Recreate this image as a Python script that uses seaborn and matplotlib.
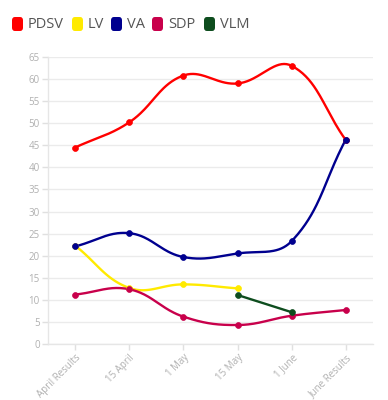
import numpy as np
import pandas as pd
import matplotlib
matplotlib.use("Agg")
import matplotlib.pyplot as plt
import seaborn as sns
from matplotlib.patches import FancyBboxPatch

LABELS = ["April Results", "15 April", "1 May", "15 May", "1 June", "June Results"]
PDSV = [44.5, 50.2, 60.8, 59.0, 63.0, 46.2]
LV   = [22.3, 12.7, 13.5, 12.6, None, None]
VA   = [22.1, 25.1, 19.7, 20.5, 23.3, 46.3]
SDP  = [11.2, 12.4, 6.2, 4.3, 6.4, 7.7]
VLM  = [None, None, None, 11.1, 7.2, None]

PARTIES = ["PDSV", "LV", "VA", "SDP", "VLM"]
SERIES  = [PDSV, LV, VA, SDP, VLM]
COLORS  = ["#ff0000", "#ffea00", "#00008f", "#c8004b", "#0e4d1e"]

# pixel scale used for the tension spline (x spacing ~54px, y ~4.4px/unit)
PX_X, PX_Y = 54.2, 4.415


def spline(xs, ys, tension=0.4, n=40):
    """Chart.js-style bezier smoothing through the points."""
    pts = np.column_stack([np.asarray(xs, float) * PX_X, np.asarray(ys, float) * PX_Y])
    m = len(pts)
    if m < 2:
        return xs, ys
    cps = []
    for i in range(m):
        prev = pts[max(i - 1, 0)]
        cur = pts[i]
        nxt = pts[min(i + 1, m - 1)]
        d01 = np.hypot(*(cur - prev))
        d12 = np.hypot(*(nxt - cur))
        tot = d01 + d12
        s01 = d01 / tot if tot else 0
        s12 = d12 / tot if tot else 0
        cps.append((cur - tension * s01 * (nxt - prev), cur + tension * s12 * (nxt - prev)))
    out = []
    t = np.linspace(0, 1, n)[:, None]
    for i in range(m - 1):
        p0, p3 = pts[i], pts[i + 1]
        p1, p2 = cps[i][1], cps[i + 1][0]
        seg = (1 - t) ** 3 * p0 + 3 * (1 - t) ** 2 * t * p1 + 3 * (1 - t) * t ** 2 * p2 + t ** 3 * p3
        out.append(seg if i == 0 else seg[1:])
    out = np.vstack(out)
    return out[:, 0] / PX_X, out[:, 1] / PX_Y


sns.set_theme(style="white")
plt.rcParams["font.family"] = ["Open Sans", "DejaVu Sans"]

fig = plt.figure(figsize=(3.88, 4.0), dpi=100)
ax = fig.add_axes([0.1237, 0.14, 0.961 - 0.1237, 0.7175])

for party, vals, color in zip(PARTIES, SERIES, COLORS):
    idx = [i for i, v in enumerate(vals) if v is not None]
    yv = [vals[i] for i in idx]
    sx, sy = spline(idx, yv)
    dense = pd.DataFrame({"x": sx, "y": sy})
    sns.lineplot(data=dense, x="x", y="y", ax=ax, color=color, lw=1.7, sort=False,
                 estimator=None, zorder=3)
    pts = pd.DataFrame({"x": idx, "y": yv})
    sns.scatterplot(data=pts, x="x", y="y", ax=ax, color=color, s=18, edgecolor=color,
                    linewidth=0.5, zorder=4)

ax.set_xlim(-0.5, 5.5)
ax.set_ylim(0, 65)
ax.set_yticks(np.arange(0, 66, 5))
ax.set_xticks(range(len(LABELS)))
ax.set_xticklabels(LABELS, rotation=45, ha="right", rotation_mode="anchor")
ax.set_xlabel("")
ax.set_ylabel("")
ax.grid(True, axis="y", color="#ebebeb", lw=1)
ax.set_axisbelow(True)
for side in ["top", "right"]:
    ax.spines[side].set_visible(False)
for side in ["left", "bottom"]:
    ax.spines[side].set_color("#e6e6e6")
    ax.spines[side].set_linewidth(1)
ax.tick_params(axis="both", colors="#e0e0e0", labelcolor="#b0b0b0", labelsize=7,
               length=4, width=1, pad=2, left=True, bottom=True)

# legend drawn manually with rounded swatches
legend_x = [12, 72, 111, 152, 204]
for party, color, px in zip(PARTIES, COLORS, legend_x):
    box = FancyBboxPatch((px / 388, (400 - 31) / 400), 11 / 388, 14 / 400,
                         boxstyle="round,pad=0,rounding_size=0.008",
                         transform=fig.transFigure, facecolor=color, edgecolor="none")
    fig.patches.append(box)
    fig.text((px + 16) / 388, (400 - 24.5) / 400, party, fontsize=10.5, color="#555555",
             va="center", ha="left")

fig.savefig("out.png", dpi=100)
